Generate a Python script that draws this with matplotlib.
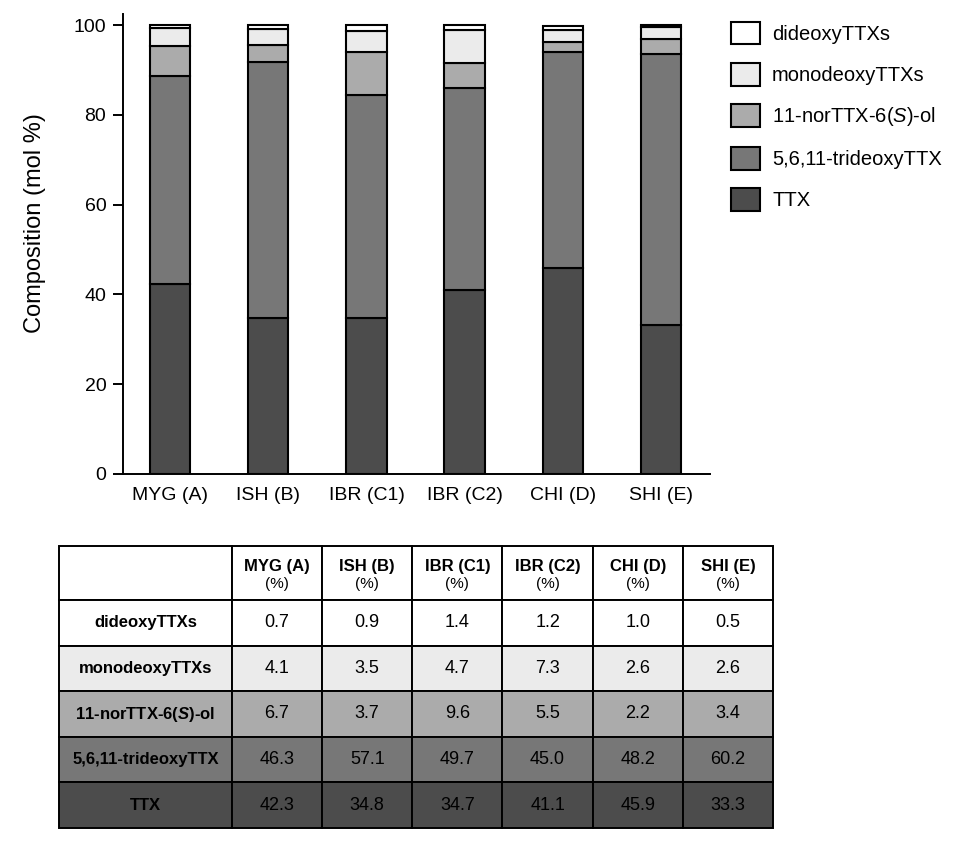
import numpy as np
import matplotlib.pyplot as plt
from matplotlib.patches import Rectangle, Patch

plt.rcParams['font.family'] = ['Liberation Sans', 'DejaVu Sans']
plt.rcParams['mathtext.fontset'] = 'custom'
plt.rcParams['mathtext.rm'] = 'Liberation Sans'
plt.rcParams['mathtext.it'] = 'Liberation Sans:italic'
plt.rcParams['mathtext.bf'] = 'Liberation Sans:bold'
plt.rcParams['mathtext.bfit'] = 'Liberation Sans:italic:bold'

# sites
sites = ['MYG (A)', 'ISH (B)', 'IBR (C1)', 'IBR (C2)', 'CHI (D)', 'SHI (E)']

# components, top to bottom as in the table
components = ['dideoxyTTXs', 'monodeoxyTTXs', '11-norTTX-6($\\mathit{S}$)-ol',
              '5,6,11-trideoxyTTX', 'TTX']
table_labels = ['dideoxyTTXs', 'monodeoxyTTXs', '11-norTTX-6($\\mathbfit{S}$)-ol',
                '5,6,11-trideoxyTTX', 'TTX']
colors = ['#ffffff', '#ebebeb', '#ababab', '#777777', '#4c4c4c']

dideoxy = [0.7, 0.9, 1.4, 1.2, 1.0, 0.5]
monodeoxy = [4.1, 3.5, 4.7, 7.3, 2.6, 2.6]
nor_ol = [6.7, 3.7, 9.6, 5.5, 2.2, 3.4]
trideoxy = [46.3, 57.1, 49.7, 45.0, 48.2, 60.2]
ttx = [42.3, 34.8, 34.7, 41.1, 45.9, 33.3]

values = [dideoxy, monodeoxy, nor_ol, trideoxy, ttx]

fig = plt.figure(figsize=(9.56, 8.5), dpi=100)
W, H = 956, 850

# bar chart
ax = fig.add_axes([123 / W, 1 - 474 / H, (710 - 123) / W, (474 - 14) / H])
x = np.arange(len(sites))
bottom = np.zeros(len(sites))
handles = []
for i in range(len(values) - 1, -1, -1):
    v = np.array(values[i])
    ax.bar(x, v, bottom=bottom, width=0.41, color=colors[i],
           edgecolor='black', linewidth=1.5)
    bottom += v
for i in range(len(values)):
    handles.append(Patch(facecolor=colors[i], edgecolor='black', linewidth=1.5,
                         label=components[i]))

ax.set_xlim(-0.48, 5.5)
ax.set_ylim(0, 102.5)
ax.set_yticks([0, 20, 40, 60, 80, 100])
ax.set_xticks(x)
ax.set_xticklabels(sites)
ax.tick_params(axis='y', direction='out', length=7, width=1.4, labelsize=14, pad=5)
ax.tick_params(axis='x', length=0, labelsize=14, pad=9)
ax.spines['top'].set_visible(False)
ax.spines['right'].set_visible(False)
ax.spines['left'].set_linewidth(1.4)
ax.spines['bottom'].set_linewidth(1.4)
ax.set_ylabel('Composition (mol %)', fontsize=17, labelpad=20)
ax.yaxis.label.set_y(0.546)

fig.legend(handles=handles, loc='upper left', bbox_to_anchor=(731 / W, 1 - 22 / H),
           frameon=False, fontsize=14.5, handlelength=1.44, handleheight=1.34,
           labelspacing=0.93, handletextpad=0.6, borderpad=0, borderaxespad=0)

# table
tx0, tx1, ty0, ty1 = 59, 773, 546, 828
tax = fig.add_axes([tx0 / W, 1 - ty1 / H, (tx1 - tx0) / W, (ty1 - ty0) / H])
col_w = [173] + [90.2] * 6
row_h = [54] + [45.6] * 5
tax.set_xlim(0, sum(col_w))
tax.set_ylim(sum(row_h), 0)
tax.axis('off')

col_x = np.concatenate([[0], np.cumsum(col_w)])
row_y = np.concatenate([[0], np.cumsum(row_h)])

for r in range(len(row_h)):
    for c in range(len(col_w)):
        fc = '#ffffff' if r == 0 else colors[r - 1]
        tax.add_patch(Rectangle((col_x[c], row_y[r]), col_w[c], row_h[r],
                                facecolor=fc, edgecolor='black', linewidth=1.4,
                                clip_on=False))

for c, s in enumerate(sites):
    cx = (col_x[c + 1] + col_x[c + 2]) / 2
    tax.text(cx, 21, s, ha='center', va='center', fontsize=12, fontweight='bold')
    tax.text(cx, 38, '(%)', ha='center', va='center', fontsize=11)

for r, lab in enumerate(table_labels):
    cy = (row_y[r + 1] + row_y[r + 2]) / 2
    tax.text(col_x[1] / 2, cy, lab, ha='center', va='center', fontsize=12,
             fontweight='bold')
    for c in range(len(sites)):
        cx = (col_x[c + 1] + col_x[c + 2]) / 2
        tax.text(cx, cy, f'{values[r][c]:.1f}', ha='center', va='center',
                 fontsize=13)

fig.savefig('out.png', dpi=100)
